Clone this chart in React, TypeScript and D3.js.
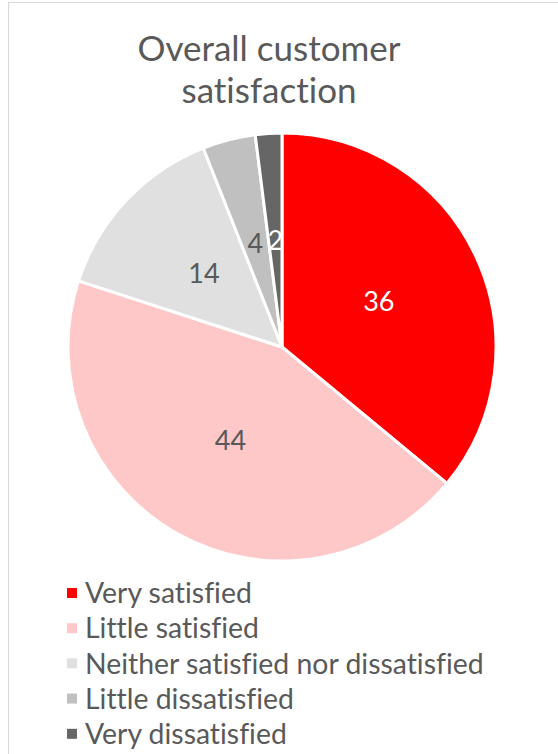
import React from "react";
import * as d3 from "d3";

const categories = [
  "Very satisfied",
  "Little satisfied",
  "Neither satisfied nor dissatisfied",
  "Little dissatisfied",
  "Very dissatisfied",
];
const values = [36, 44, 14, 4, 2];
const colors = ["#FF0000", "#FFC8C8", "#E0E0E0", "#C0C0C0", "#666666"];
const labelColors = ["#FFFFFF", "#595959", "#595959", "#595959", "#FFFFFF"];
const titleLines = ["Overall customer", "satisfaction"];

const W = 558;
const H = 754;
const FONT = "Lato, 'Noto Sans', sans-serif";

export default function App() {
  const cx = 282;
  const cy = 347;
  const r = 214;
  const pie = d3
    .pie<number>()
    .sort(null)
    .value((d) => d)
    .startAngle(0)
    .endAngle(2 * Math.PI);
  const arcs = pie(values);
  const arc = d3.arc<d3.PieArcDatum<number>>().innerRadius(0).outerRadius(r);
  const labelArc = d3
    .arc<d3.PieArcDatum<number>>()
    .innerRadius(r * 0.5)
    .outerRadius(r * 0.5);

  return (
    <div style={{ position: "absolute", left: 0, top: 0 }}>
      <svg
        width={W}
        height={H}
        style={{ display: "block", fontVariantLigatures: "none" }}
      >
        <rect x={0} y={0} width={W} height={H} fill="#FFFFFF" />
        <rect
          x={8.5}
          y={2.5}
          width={700}
          height={900}
          fill="#FFFFFF"
          stroke="#D9D9D9"
          strokeWidth={1}
        />
        <g fontFamily={FONT} fill="#595959" textAnchor="middle">
          {titleLines.map((t, i) => (
            <text key={t} x={269} y={61 + i * 42} fontSize={35}>
              {t}
            </text>
          ))}
        </g>
        <g transform={`translate(${cx},${cy})`}>
          {arcs.map((a, i) => (
            <path
              key={categories[i]}
              d={arc(a) || ""}
              fill={colors[i]}
              stroke="#FFFFFF"
              strokeWidth={3}
              strokeLinejoin="round"
            />
          ))}
          {arcs.map((a, i) => {
            const [lx, ly] = labelArc.centroid(a);
            return (
              <text
                key={"l" + i}
                x={lx}
                y={ly}
                dy="0.36em"
                textAnchor="middle"
                fontFamily={FONT}
                fontSize={27}
                fill={labelColors[i]}
              >
                {values[i]}
              </text>
            );
          })}
        </g>
        <g fontFamily={FONT} fontSize={28.4} fill="#595959">
          {categories.map((c, i) => {
            const y = 593 + i * 35.2;
            return (
              <g key={c}>
                <rect x={67} y={y - 5} width={10} height={10} fill={colors[i]} />
                <text x={85} y={y} dy="0.36em">
                  {c}
                </text>
              </g>
            );
          })}
        </g>
      </svg>
    </div>
  );
}
